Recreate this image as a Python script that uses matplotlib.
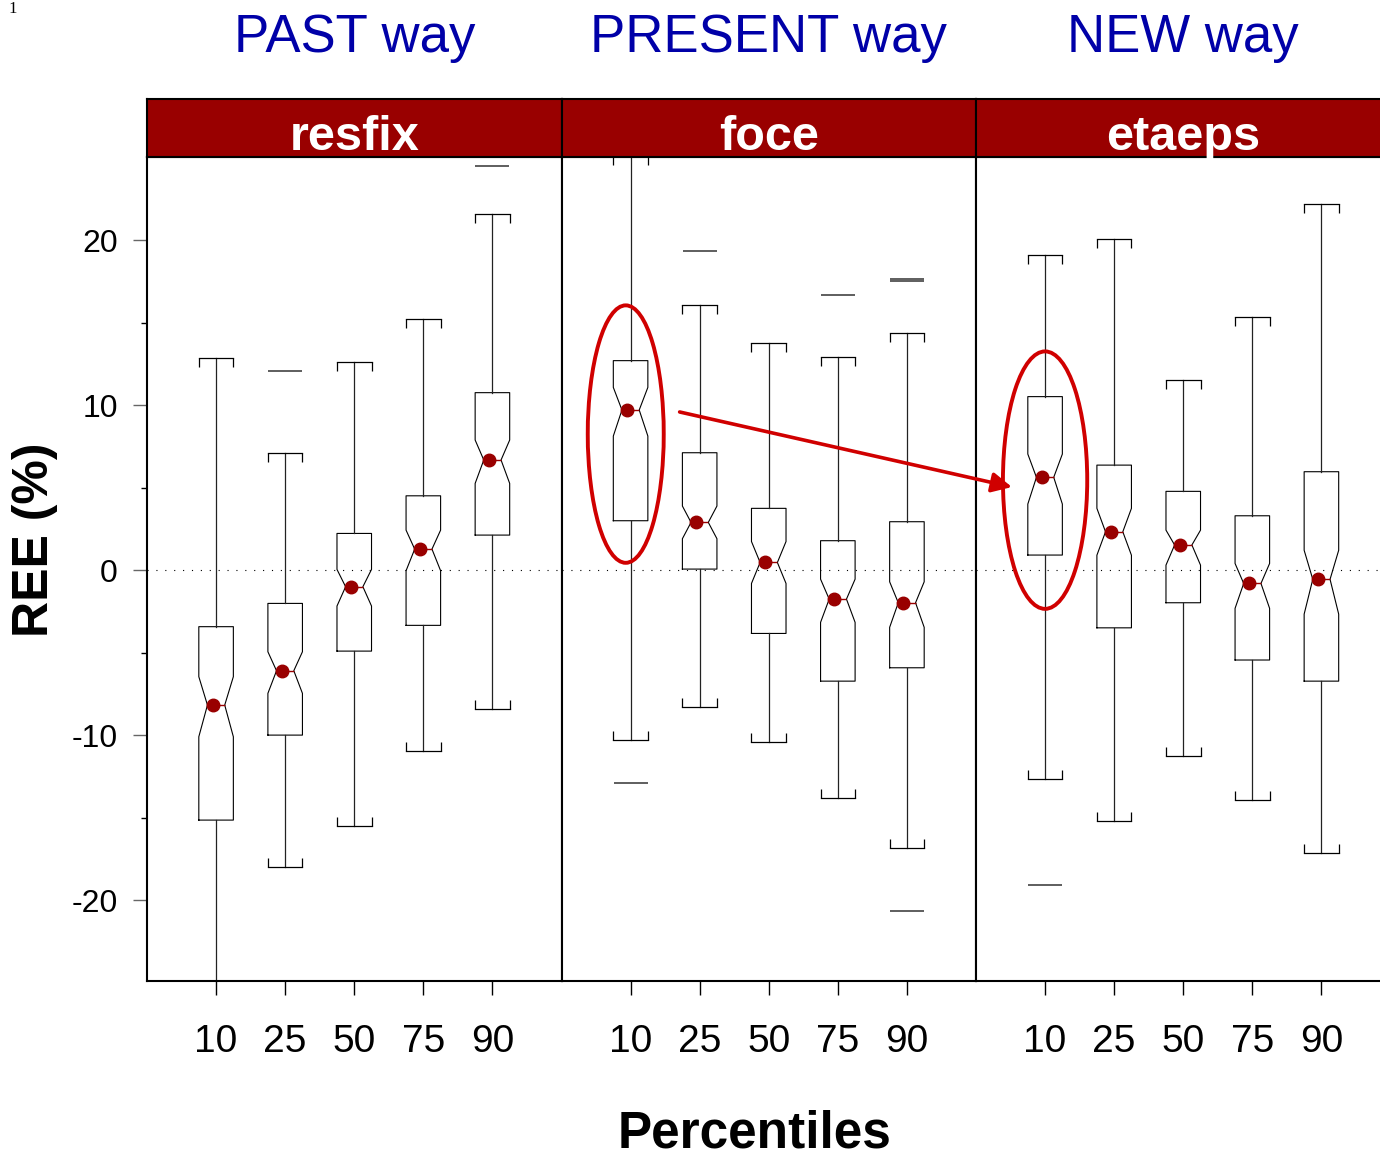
import numpy as np
import matplotlib.pyplot as plt
from matplotlib.patches import Ellipse, ConnectionPatch

plt.rcParams['font.family'] = ['Liberation Sans', 'DejaVu Sans']

panels = ['resfix', 'foce', 'etaeps']
ways = ['PAST way', 'PRESENT way', 'NEW way']
percentiles = ['10', '25', '50', '75', '90']

# resfix
resfix_med = [-8.18, -6.10, -1.01, 1.27, 6.67]
resfix_q1 = [-15.15, -10.00, -4.91, -3.35, 2.12]
resfix_q3 = [-3.43, -2.02, 2.22, 4.50, 10.75]
resfix_cilo = [-10.10, -7.47, -2.18, -0.04, 5.25]
resfix_cihi = [-6.46, -4.95, 0.04, 2.42, 7.88]
resfix_whislo = [-27.0, -17.98, -15.49, -10.99, -8.44]
resfix_whishi = [12.85, 7.11, 12.59, 15.21, 21.56]
resfix_out = [[], [12.08], [], [], [24.5]]

# foce
foce_med = [9.70, 2.89, 0.46, -1.76, -1.98]
foce_q1 = [2.99, 0.06, -3.84, -6.73, -5.92]
foce_q3 = [12.69, 7.11, 3.74, 1.78, 2.93]
foce_cilo = [8.12, 1.90, -0.81, -3.17, -3.47]
foce_cihi = [11.07, 3.88, 1.73, -0.55, -0.71]
foce_whislo = [-10.30, -8.28, -10.44, -13.84, -16.87]
foce_whishi = [25.1, 16.06, 13.74, 12.89, 14.38]
foce_out = [[-12.89], [19.35], [], [16.67], [17.52, 17.62, -20.65]]

# etaeps
etaeps_med = [5.62, 2.32, 1.52, -0.81, -0.56]
etaeps_q1 = [0.91, -3.50, -1.98, -5.45, -6.73]
etaeps_q3 = [10.51, 6.36, 4.77, 3.29, 5.96]
etaeps_cilo = [4.00, 0.90, 0.30, -2.32, -2.67]
etaeps_cihi = [7.03, 3.74, 2.42, 0.40, 1.20]
etaeps_whislo = [-12.69, -15.19, -11.27, -13.94, -17.17]
etaeps_whishi = [19.07, 20.08, 11.52, 15.31, 22.16]
etaeps_out = [[-19.11], [], [], [], []]

data = [
    (resfix_med, resfix_q1, resfix_q3, resfix_cilo, resfix_cihi, resfix_whislo, resfix_whishi, resfix_out),
    (foce_med, foce_q1, foce_q3, foce_cilo, foce_cihi, foce_whislo, foce_whishi, foce_out),
    (etaeps_med, etaeps_q1, etaeps_q3, etaeps_cilo, etaeps_cihi, etaeps_whislo, etaeps_whishi, etaeps_out),
]

DARKRED = '#990000'
RED = '#d00000'
BLUE = '#0000a8'
W = 0.5

fig = plt.figure(figsize=(13.8, 11.6), dpi=100)

left = 147 / 1380
pw = 414.5 / 1380
bottom = 1 - 981 / 1160
ph = (981 - 157) / 1160
sb = 1 - 157 / 1160
sh = 58 / 1160

axes = []
pos = np.arange(1, 6)
for i, name in enumerate(panels):
    ax = fig.add_axes([left + i * pw, bottom, pw, ph])
    med, q1, q3, cilo, cihi, wlo, whi, out = data[i]
    stats = []
    for k in range(5):
        stats.append(dict(med=med[k], q1=q1[k], q3=q3[k], cilo=cilo[k], cihi=cihi[k],
                          whislo=wlo[k], whishi=whi[k], fliers=out[k]))
    ax.bxp(stats, positions=pos, widths=W, capwidths=W, shownotches=True,
           boxprops=dict(color='black', lw=0.8),
           whiskerprops=dict(color='#222222', lw=0.9, linestyle='-'),
           capprops=dict(color='black', lw=0.9),
           medianprops=dict(color=DARKRED, lw=1.0),
           flierprops=dict(marker='_', markersize=24.5, markeredgecolor='#333333',
                           markeredgewidth=1.1))
    # small end ticks on the caps, pointing toward the box
    ax.vlines(pos - W / 2, whi, np.array(whi) - 0.55, color='black', lw=0.9)
    ax.vlines(pos + W / 2, whi, np.array(whi) - 0.55, color='black', lw=0.9)
    ax.vlines(pos - W / 2, wlo, np.array(wlo) + 0.55, color='black', lw=0.9)
    ax.vlines(pos + W / 2, wlo, np.array(wlo) + 0.55, color='black', lw=0.9)
    ax.plot(pos - 0.05, med, 'o', color=DARKRED, markersize=9, zorder=5)
    ax.axhline(0, color='black', lw=0.8, linestyle=(0, (1, 7)), zorder=0)

    ax.set_xlim(0, 6)
    ax.set_ylim(-24.9, 25.03)
    ax.set_xticks(pos)
    ax.set_xticklabels(percentiles, fontsize=28)
    ax.tick_params(axis='x', direction='out', length=10, width=1, color='black', pad=21)
    for s in ax.spines.values():
        s.set_linewidth(1.5)
    if i == 0:
        ax.set_yticks([-20, -10, 0, 10, 20])
        ax.set_yticks([-15, -5, 5, 15], minor=True)
        ax.set_yticklabels(['-20', '-10', '0', '10', '20'], fontsize=23)
        ax.tick_params(axis='y', which='major', direction='out', length=10, width=1,
                       color='#666666', pad=11)
        ax.tick_params(axis='y', which='minor', direction='out', length=4.3, width=1,
                       color='black')
    else:
        ax.tick_params(axis='y', which='both', left=False, labelleft=False)
    axes.append(ax)

    # strip
    sax = fig.add_axes([left + i * pw, sb, pw, sh])
    sax.set_facecolor(DARKRED)
    sax.set_xticks([])
    sax.set_yticks([])
    for s in sax.spines.values():
        s.set_linewidth(1.5)
    sax.text(0.5, 0.33, name, transform=sax.transAxes, ha='center', va='center',
             color='white', fontsize=35, fontweight='bold')

    fig.text((left + (i + 0.5) * pw), 1 - 52 / 1160, ways[i], ha='center', va='baseline',
             color=BLUE, fontsize=38)

# annotations
axes[1].add_patch(Ellipse((0.93, 8.24), 1.1, 15.6, fill=False, edgecolor=RED, lw=2.8, zorder=6))
axes[2].add_patch(Ellipse((1.0, 5.45), 1.22, 15.6, fill=False, edgecolor=RED, lw=2.8, zorder=6))
arrow = ConnectionPatch(xyA=(1.71, 9.58), coordsA=axes[1].transData,
                        xyB=(0.52, 5.03), coordsB=axes[2].transData,
                        arrowstyle='-|>,head_length=0.6,head_width=0.3', mutation_scale=20,
                        color=RED, lw=2.6, shrinkA=0, shrinkB=0, zorder=10)
fig.add_artist(arrow)

fig.text(35 / 1380, 1 - 540 / 1160, 'REE (%)', rotation=90, ha='center', va='center',
         fontsize=36, fontweight='bold')
fig.text(755 / 1380, 1 - 1148 / 1160, 'Percentiles', ha='center', va='baseline',
         fontsize=37, fontweight='bold')
fig.text(8 / 1380, 1 - 13 / 1160, '1', family='Liberation Serif', fontsize=12,
         ha='left', va='baseline')

fig.savefig('out.png', dpi=100)
